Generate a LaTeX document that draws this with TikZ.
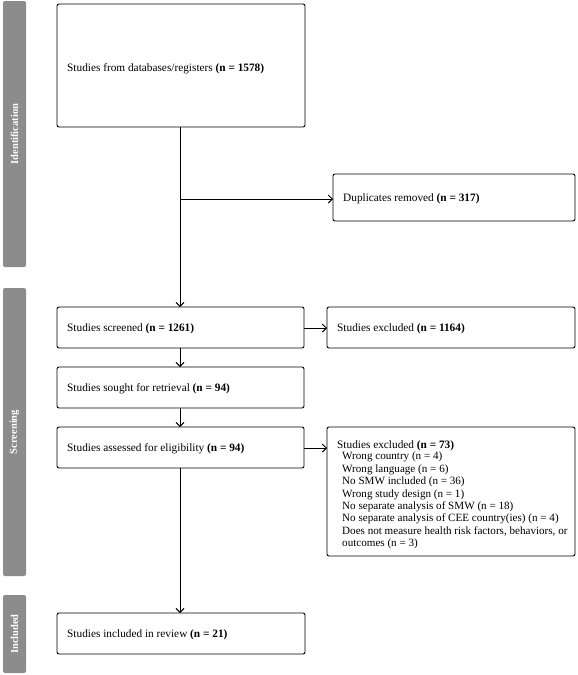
\documentclass[tikz,border=0pt]{standalone}
\usepackage{fontspec}
\setmainfont{Liberation Serif}
\usetikzlibrary{arrows.meta}
\begin{document}
\begin{tikzpicture}[x=1pt,y=-1pt,
  box/.style={draw,line width=0.9pt,rounded corners=2pt,inner sep=0pt},
  txt/.style={anchor=west,font=\fontsize{11.3}{12.5}\selectfont,inner sep=0pt},
  bar/.style={fill=black!45,rounded corners=2pt},
  barlabel/.style={rotate=90,text=white,font=\fontsize{10.5}{12}\selectfont\bfseries},
  arr/.style={line width=0.9pt,-{Straight Barb[length=4pt,width=8pt]}},
  ln/.style={line width=0.9pt}]
\useasboundingbox (0,0) rectangle (578,675);
% side bars
\fill[bar] (3,1) rectangle (26,267);
\node[barlabel] (lidn) at (14.5,134) {Identification};
\fill[bar] (3,288) rectangle (26,576);
\node[barlabel] (lscr) at (14.5,432) {Screening};
\fill[bar] (3,595) rectangle (26,673);
\node[barlabel] (linc) at (14.5,634) {Included};
% boxes
\draw[box] (57,4) rectangle (305,127);
\coordinate (topb) at (180,127);
\node[txt] (t1) at (67,69) {Studies from databases/registers \textbf{(n = 1578)}};
\draw[box] (333,174) rectangle (575,221);
\coordinate (dupl) at (333,199);
\node[txt] (t2) at (343,199) {Duplicates removed \textbf{(n = 317)}};
\draw[box] (57,307) rectangle (304,348);
\node[txt] (t3) at (67,329) {Studies screened \textbf{(n = 1261)}};
\draw[box] (327,307) rectangle (575,348);
\node[txt] (t4) at (337,329) {Studies excluded \textbf{(n = 1164)}};
\draw[box] (57,367) rectangle (304,408);
\node[txt] (t5) at (67,389) {Studies sought for retrieval \textbf{(n = 94)}};
\draw[box] (57,427) rectangle (304,468);
\node[txt] (t6) at (67,449) {Studies assessed for eligibility \textbf{(n = 94)}};
\draw[box] (327,427) rectangle (575,556);
\node[txt,anchor=base west] (t7) at (337,448) {Studies excluded \textbf{(n = 73)}};
\node[anchor=north west,align=left,inner sep=0pt,font=\fontsize{11.1}{12.4}\selectfont] (t7b) at (342,452) {Wrong country (n = 4)\\
Wrong language (n = 6)\\
No SMW included (n = 36)\\
Wrong study design (n = 1)\\
No separate analysis of SMW (n = 18)\\
No separate analysis of CEE country(ies) (n = 4)\\
Does not measure health risk factors, behaviors, or\\
outcomes (n = 3)};
\draw[box] (57,613) rectangle (305,654);
\node[txt] (t8) at (67,635) {Studies included in review \textbf{(n = 21)}};
% connectors
\coordinate (branch) at (180,199);
\coordinate (scrT) at (180,307);
\coordinate (scrB) at (180,348);
\coordinate (souT) at (180,367);
\coordinate (souB) at (180,408);
\coordinate (assT) at (180,427);
\coordinate (assB) at (180,468);
\coordinate (incT) at (180,613);
\coordinate (scrR) at (304,328);
\coordinate (excL) at (327,328);
\coordinate (assR) at (304,448);
\coordinate (ex2L) at (327,448);
\draw[arr] (topb) -- (scrT);
\draw[arr] (branch) -- (dupl);
\draw[arr] (scrB) -- (souT);
\draw[arr] (souB) -- (assT);
\draw[arr] (assB) -- (incT);
\draw[arr] (scrR) -- (excL);
\draw[arr] (assR) -- (ex2L);
\end{tikzpicture}
\end{document}
